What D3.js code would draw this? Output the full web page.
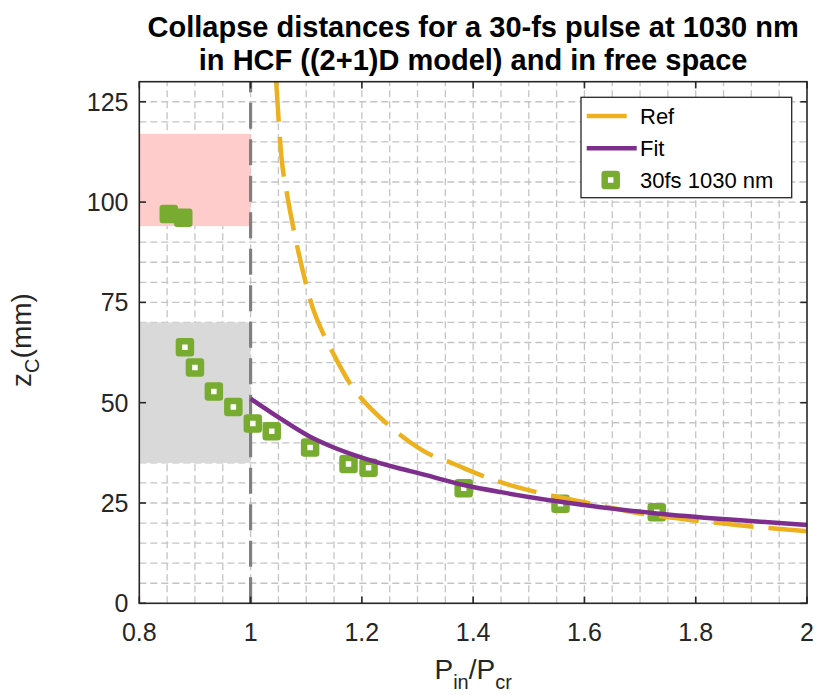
<!DOCTYPE html>
<html>
<head>
<meta charset="utf-8">
<script src="https://cdn.jsdelivr.net/npm/d3@7"></script>
<style>
  html, body { margin: 0; padding: 0; background: #ffffff; }
  svg { display: block; font-family: "Liberation Sans", Arial, Helvetica, sans-serif; }
</style>
</head>
<body>
<svg id="chart" width="816" height="695"></svg>
<script>
// Measured collapse distances, 30-fs pulse at 1030 nm
const pointP = [0.882, 0.900, 0.934, 0.969, 1.004, 1.038, 1.107, 1.176, 1.212, 1.383, 1.557, 1.730];
const pointZ = [63.8, 58.8, 52.8, 48.9, 44.8, 42.9, 38.8, 34.7, 33.8, 28.7, 24.8, 22.7];
// Cases above the collapse band (no focus inside the fibre)
const clusterP = [0.853, 0.879];
const clusterZ = [97.0, 96.1];

// Free-space reference (Marburger) curve
const refP = [1.046, 1.056, 1.0647, 1.078, 1.0996, 1.1068, 1.1325, 1.1458, 1.1787, 1.1979, 1.2457, 1.2698,
              1.3255, 1.3554, 1.4183, 1.4465, 1.5142, 1.61, 1.6878, 1.8018, 1.9035, 1.9995];
const refZ = [130, 110.5, 102.6, 92.8, 79.6, 75.8, 66.6, 63.0, 54.8, 51.3, 44.7, 41.9,
              36.9, 35.3, 31.7, 30.3, 27.7, 24.9, 22.7, 20.6, 19.1, 18.0];

// Fitted curve to the HCF results
const fitP = [1.0, 1.053, 1.107, 1.143, 1.2, 1.268, 1.3, 1.383, 1.45, 1.557, 1.65, 1.73, 1.868, 2.0];
const fitZ = [51.0, 46.1, 41.5, 39.2, 36.3, 33.6, 32.5, 29.5, 27.7, 25.3, 23.6, 22.4, 20.8, 19.5];

// Shaded bands
const bandPink = { p0: 0.8, p1: 1.0, z0: 94, z1: 117 };
const bandGray = { p0: 0.8, p1: 1.0, z0: 35, z1: 70 };
const criticalP = 1.0;

const xTicks = [0.8, 1, 1.2, 1.4, 1.6, 1.8, 2];
const xTickLabels = ["0.8", "1", "1.2", "1.4", "1.6", "1.8", "2"];
const yTicks = [0, 25, 50, 75, 100, 125];
const yTickLabels = ["0", "25", "50", "75", "100", "125"];

const titleLines = ["Collapse distances for a 30-fs pulse at 1030 nm", "in HCF ((2+1)D model) and in free space"];
const legendLabels = ["Ref", "Fit", "30fs 1030 nm"];

const colors = { ref: "#EDB120", fit: "#7E2F8E", pts: "#77AC30", pink: "#FFCCCC", gray: "#D9D9D9", crit: "#808080", axis: "#262626", grid: "#c4c4c4" };

const svg = d3.select("#chart");
const L = 139.3, T = 81.7, W = 667.7, H = 521.6;
const x = d3.scaleLinear().domain([0.8, 2]).range([L, L + W]);
const y = d3.scaleLinear().domain([0, 130]).range([T + H, T]);

svg.append("defs").append("clipPath").attr("id", "plotclip")
  .append("rect").attr("x", L).attr("y", T).attr("width", W).attr("height", H);

// Grid (major and minor, dashed)
const grid = svg.append("g").attr("stroke", colors.grid).attr("stroke-width", 1.3).attr("stroke-dasharray", "7,4");
d3.range(0.85, 2.0, 0.05).forEach(v => {
  grid.append("line").attr("x1", x(v)).attr("x2", x(v)).attr("y1", y(0)).attr("y2", y(130));
});
d3.range(5, 130, 5).forEach(v => {
  grid.append("line").attr("x1", x(0.8)).attr("x2", x(2)).attr("y1", y(v)).attr("y2", y(v));
});

// Bands
const plot = svg.append("g").attr("clip-path", "url(#plotclip)");
[[bandPink, colors.pink], [bandGray, colors.gray]].forEach(([b, c]) => {
  plot.append("rect")
    .attr("x", x(b.p0)).attr("y", y(b.z1))
    .attr("width", x(b.p1) - x(b.p0)).attr("height", y(b.z0) - y(b.z1))
    .attr("fill", c);
});

// Critical power line
plot.append("line")
  .attr("x1", x(criticalP)).attr("x2", x(criticalP))
  .attr("y1", y(0)).attr("y2", y(130))
  .attr("stroke", colors.crit).attr("stroke-width", 3.2).attr("stroke-dasharray", "26,10.5");

// Markers
const mk = 12;
plot.selectAll("rect.cl").data(clusterP.map((p, i) => [p, clusterZ[i]])).enter().append("rect")
  .attr("class", "cl")
  .attr("x", d => x(d[0]) - mk / 2).attr("y", d => y(d[1]) - mk / 2)
  .attr("width", mk).attr("height", mk)
  .attr("fill", colors.pts).attr("stroke", colors.pts).attr("stroke-width", 6.5).attr("stroke-linejoin", "round");
plot.selectAll("rect.pt").data(pointP.map((p, i) => [p, pointZ[i]])).enter().append("rect")
  .attr("class", "pt")
  .attr("x", d => x(d[0]) - mk / 2).attr("y", d => y(d[1]) - mk / 2)
  .attr("width", mk).attr("height", mk)
  .attr("fill", "#ffffff").attr("stroke", colors.pts).attr("stroke-width", 6.5).attr("stroke-linejoin", "round");

// Curves
const line = d3.line().x(d => x(d[0])).y(d => y(d[1])).curve(d3.curveMonotoneX);
plot.append("path").datum(refP.map((p, i) => [p, refZ[i]]))
  .attr("d", line).attr("fill", "none").attr("stroke", colors.ref)
  .attr("stroke-width", 4.5).attr("stroke-dasharray", "40,15");
plot.append("path").datum(fitP.map((p, i) => [p, fitZ[i]]))
  .attr("d", line).attr("fill", "none").attr("stroke", colors.fit)
  .attr("stroke-width", 4.5);

// Axes box and ticks
const ax = svg.append("g");
ax.append("rect").attr("x", L).attr("y", T).attr("width", W).attr("height", H)
  .attr("fill", "none").attr("stroke", colors.axis).attr("stroke-width", 1.6);
const tl = 6.7;
xTicks.forEach((v, i) => {
  ax.append("line").attr("x1", x(v)).attr("x2", x(v)).attr("y1", T + H).attr("y2", T + H - tl).attr("stroke", colors.axis).attr("stroke-width", 1.6);
  ax.append("line").attr("x1", x(v)).attr("x2", x(v)).attr("y1", T).attr("y2", T + tl).attr("stroke", colors.axis).attr("stroke-width", 1.6);
  ax.append("text").attr("x", x(v)).attr("y", 641).attr("text-anchor", "middle")
    .attr("font-size", 25).attr("fill", colors.axis).text(xTickLabels[i]);
});
yTicks.forEach((v, i) => {
  ax.append("line").attr("x1", L).attr("x2", L + tl).attr("y1", y(v)).attr("y2", y(v)).attr("stroke", colors.axis).attr("stroke-width", 1.6);
  ax.append("line").attr("x1", L + W).attr("x2", L + W - tl).attr("y1", y(v)).attr("y2", y(v)).attr("stroke", colors.axis).attr("stroke-width", 1.6);
  ax.append("text").attr("x", 128.5).attr("y", y(v) + 8.9).attr("text-anchor", "end")
    .attr("font-size", 25).attr("fill", colors.axis).text(yTickLabels[i]);
});

// Axis labels
const xl = svg.append("text").attr("x", L + W / 2).attr("y", 679).attr("text-anchor", "middle")
  .attr("font-size", 28).attr("fill", colors.axis);
xl.append("tspan").text("P");
xl.append("tspan").attr("font-size", 20).attr("dy", 10).text("in");
xl.append("tspan").attr("dy", -10).text("/P");
xl.append("tspan").attr("font-size", 20).attr("dy", 10).text("cr");

const yl = svg.append("text").attr("transform", "translate(31,340) rotate(-90)").attr("text-anchor", "middle")
  .attr("font-size", 28).attr("fill", colors.axis);
yl.append("tspan").text("z");
yl.append("tspan").attr("font-size", 20).attr("dy", 8).text("C");
yl.append("tspan").attr("dy", -8).text("(mm)");

// Title
titleLines.forEach((t, i) => {
  svg.append("text").attr("x", L + W / 2).attr("y", 37 + i * 33).attr("text-anchor", "middle")
    .attr("font-size", 29).attr("font-weight", "bold").attr("fill", "#000").text(t);
});

// Legend
const lg = svg.append("g");
lg.append("rect").attr("x", 581).attr("y", 97.3).attr("width", 210.7).attr("height", 100.4)
  .attr("fill", "#fff").attr("stroke", colors.axis).attr("stroke-width", 1.3);
const rows = [116, 148.3, 180];
lg.append("line").attr("x1", 586.7).attr("x2", 636.7).attr("y1", rows[0]).attr("y2", rows[0])
  .attr("stroke", colors.ref).attr("stroke-width", 4.5).attr("stroke-dasharray", "40,15");
lg.append("line").attr("x1", 586.7).attr("x2", 636.7).attr("y1", rows[1]).attr("y2", rows[1])
  .attr("stroke", colors.fit).attr("stroke-width", 4.5);
lg.append("rect").attr("x", 610.7 - mk / 2).attr("y", rows[2] - mk / 2).attr("width", mk).attr("height", mk)
  .attr("fill", "#fff").attr("stroke", colors.pts).attr("stroke-width", 6.5).attr("stroke-linejoin", "round");
legendLabels.forEach((t, i) => {
  lg.append("text").attr("x", 640).attr("y", rows[i] + 8).attr("font-size", 22).attr("fill", "#000").text(t);
});
</script>
</body>
</html>
